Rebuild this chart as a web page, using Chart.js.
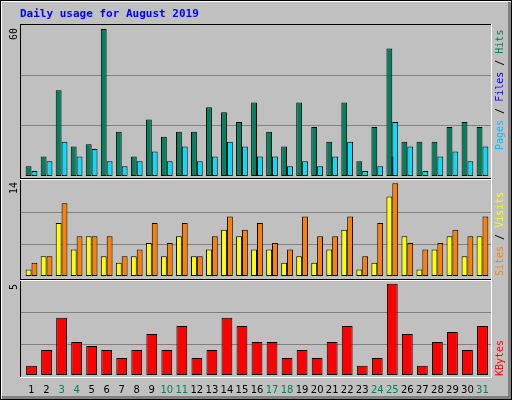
<!DOCTYPE html>
<html><head><meta charset="utf-8">
<script src="https://cdn.jsdelivr.net/npm/chart.js"></script>
<style>html,body{margin:0;padding:0;background:#C0C0C0;}#w{position:relative;width:512px;height:400px;}canvas{position:absolute;left:0;top:0;}</style>
</head><body><div id="w"><canvas id="c1" width="512" height="400"></canvas><canvas id="c2" width="512" height="400"></canvas><canvas id="c3" width="512" height="400"></canvas></div>
<script>
const days = ['1','2','3','4','5','6','7','8','9','10','11','12','13','14','15','16','17','18','19','20','21','22','23','24','25','26','27','28','29','30','31'];
const weekend = [3,4,10,11,17,18,24,25,31];
const hits  = [4,8,35,12,13,60,18,8,23,16,18,18,28,26,22,30,18,12,30,20,14,30,6,20,52,14,14,14,20,22,20];
const files = [0,0,0,0,0,0,0,0,0,0,0,0,0,0,0,0,0,0,0,0,0,0,0,0,8,0,0,0,0,0,0];
const pages = [2,6,14,8,11,6,4,6,10,6,12,6,8,14,12,8,8,4,6,4,8,14,2,4,22,12,2,8,10,6,12];
const visits = [1,3,8,4,6,3,2,3,5,3,6,3,4,7,6,4,4,2,3,2,4,7,1,2,12,6,1,4,6,3,6];
const sites  = [2,3,11,6,6,6,3,4,8,5,8,3,6,9,7,8,5,4,9,6,6,9,3,8,14,5,4,5,7,6,9];
const kbytes = [0.5,1.37,3.13,1.81,1.59,1.37,0.93,1.37,2.25,1.37,2.69,0.93,1.37,3.13,2.69,1.81,1.81,0.93,1.37,0.93,1.81,2.69,0.5,0.93,5,2.25,0.5,1.81,2.36,1.37,2.69];
const maxLabels = ['60','14','5'];

Chart.defaults.animation = false;
const L=24, R=22;
function vtext(ctx, x, y, segs, font){
  ctx.save(); ctx.translate(x,y); ctx.rotate(-Math.PI/2); ctx.font=font; ctx.textBaseline='middle'; ctx.textAlign='left';
  let p=0; for(const [t,c] of segs){ctx.fillStyle=c; ctx.fillText(t,p,0); p+=ctx.measureText(t).width;} ctx.restore();
}
const frame = {id:'frame', beforeDraw(ch){
  const c=ch.ctx; c.save();
  c.fillStyle='#C0C0C0'; c.fillRect(0,0,512,400);
  c.fillStyle='#000'; c.fillRect(0,0,512,1); c.fillRect(0,0,1,400); c.fillRect(511,0,1,400); c.fillRect(0,399,512,1);
  c.fillStyle='#fff'; c.fillRect(1,1,510,1); c.fillRect(1,1,1,398);
  c.fillStyle='#808080'; c.fillRect(2,396,509,3); c.fillRect(508,2,3,397);
  c.fillStyle='#000'; c.fillRect(20,24,471,1); c.fillRect(20,24,1,353);
  c.fillStyle='#fff'; c.fillRect(20,377,472,1); c.fillRect(491,24,1,354);
  c.fillStyle='#000'; c.fillRect(20,178,471,1); c.fillRect(20,279,471,1);
  c.fillStyle='#fff'; c.fillRect(20,179,471,1); c.fillRect(20,280,471,1);
  c.fillStyle='#0000FF'; c.font='bold 11px "DejaVu Sans Mono"'; c.textBaseline='alphabetic'; c.fillText('Daily usage for August 2019',20,17);
  c.font='10px "DejaVu Sans"'; c.textAlign='center';
  const xs=ch.scales.x;
  days.forEach((d,i)=>{c.fillStyle=weekend.includes(+d)?'#00805C':'#000'; c.fillText(d,xs.getPixelForValue(i),393);});
  const f='10px "DejaVu Sans Mono"';
  vtext(c,14,40,[[maxLabels[0],'#000']],f);
  vtext(c,14,194,[[maxLabels[1],'#000']],f);
  vtext(c,14,290,[[maxLabels[2],'#000']],f);
  vtext(c,500,150,[['Pages','#00C0FF'],[' / ','#000'],['Files','#0000FF'],[' / ','#000'],['Hits','#00805C']],f);
  vtext(c,500,276,[['Sites','#FF8000'],[' / ','#000'],['Visits','#FFFF00']],f);
  vtext(c,500,376,[['KBytes','#FF0000']],f);
  c.restore();
}};
const grid = {id:'grid', beforeDatasetsDraw(ch){
  const a=ch.chartArea, c=ch.ctx; c.save(); c.strokeStyle='#808080'; c.lineWidth=1;
  for(const k of [1,2]){const y=Math.round(a.bottom-(a.bottom-a.top)*k/3)+0.5; c.beginPath(); c.moveTo(21,y); c.lineTo(491,y); c.stroke();}
  c.restore();
}};
function mk(id, datasets, max, top, bottom){
  return new Chart(document.getElementById(id),{type:'bar',data:{labels:days,datasets},
    options:{responsive:false,devicePixelRatio:1,layout:{padding:{left:L,right:R,top:top,bottom:bottom}},
      plugins:{legend:{display:false},tooltip:{enabled:false}},
      scales:{x:{display:false,offset:true,grid:{display:false}}, y:{display:false,min:0,max:max}}},
    plugins: id==='c1'?[frame,grid]:[grid]});
}
const bs={borderColor:'#000',borderWidth:1,categoryPercentage:0.78,barPercentage:1,borderSkipped:false};
mk('c1',[
  Object.assign({label:'Hits',data:hits,backgroundColor:'#00805C'},bs),
  Object.assign({label:'Pages',data:pages,backgroundColor:'#00E0FF'},bs),
  {label:'Files',data:files,backgroundColor:'#0000FF',borderColor:'#000',borderWidth:1,grouped:false,barPercentage:0.2,categoryPercentage:1,borderSkipped:false}
],62,24,224);
mk('c2',[
  Object.assign({label:'Visits',data:visits,backgroundColor:'#FFFF00'},bs),
  Object.assign({label:'Sites',data:sites,backgroundColor:'#FF8000'},bs)
],14.5,180,124);
mk('c3',[
  {label:'KBytes',data:kbytes,backgroundColor:'#FF0000',borderColor:'#000',borderWidth:1,categoryPercentage:0.72,barPercentage:1,borderSkipped:false}
],5.15,281,25);
</script></body></html>
